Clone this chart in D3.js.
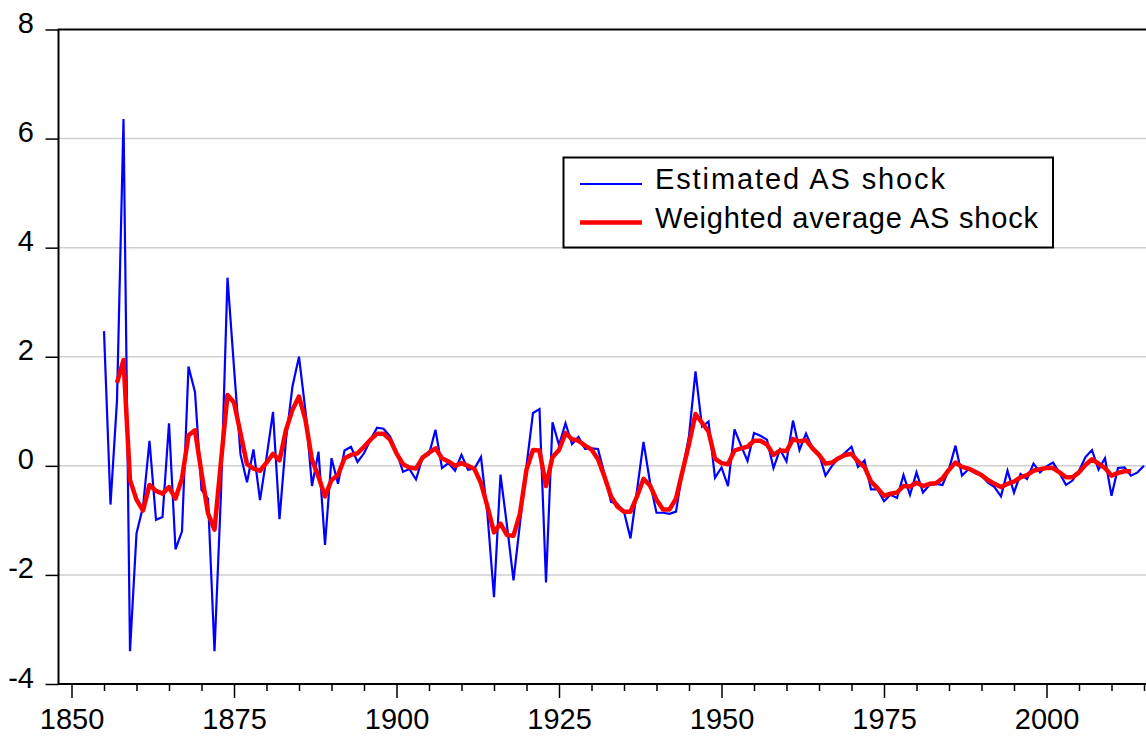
<!DOCTYPE html>
<html>
<head>
<meta charset="utf-8">
<script src="https://cdn.jsdelivr.net/npm/d3@7"></script>
<style>
  body { margin: 0; background: #fff; }
  svg { display: block; }
  text { font-family: "Liberation Sans", Arial, sans-serif; fill: #000; }
</style>
</head>
<body>
<div class="graph"></div>
<script>

// estimated AS shock, one value per year from 1855
var shockStart = 1855;
var asShock = [
  2.47, -0.71, 1.20, 6.36, -3.40,
  -1.24, -0.75, 0.46, -0.99, -0.94, 0.78, -1.53, -1.20, 1.82, 1.35,
  -0.44, -0.60, -3.40, -0.50, 3.45, 1.80, 0.21, -0.30, 0.30, -0.63,
  0.15, 0.99, -0.98, 0.48, 1.46, 2.00, 1.00, -0.37, 0.26, -1.45,
  0.14, -0.33, 0.28, 0.35, 0.07, 0.23, 0.48, 0.70, 0.68, 0.54,
  0.26, -0.11, -0.06, -0.25, 0.15, 0.21, 0.66, -0.04, 0.05, -0.09,
  0.20, -0.07, -0.05, 0.16, -0.90, -2.41, -0.16, -1.10, -2.10, -1.05,
  0.00, 0.97, 1.04, -2.14, 0.80, 0.38, 0.78, 0.40, 0.53, 0.31,
  0.32, 0.31, -0.15, -0.66, -0.70, -0.84, -1.33, -0.45, 0.44, -0.30,
  -0.86, -0.86, -0.88, -0.84, -0.10, 0.55, 1.73, 0.72, 0.81, -0.22,
  -0.03, -0.37, 0.67, 0.37, 0.09, 0.60, 0.55, 0.48, -0.04, 0.30,
  0.08, 0.83, 0.29, 0.59, 0.32, 0.22, -0.18, 0.00, 0.14, 0.24,
  0.35, -0.02, 0.10, -0.43, -0.43, -0.65, -0.53, -0.59, -0.17, -0.53,
  -0.12, -0.49, -0.35, -0.33, -0.35, -0.06, 0.37, -0.18, -0.06, -0.13,
  -0.18, -0.31, -0.39, -0.56, -0.09, -0.49, -0.15, -0.24, 0.04, -0.12,
  -0.01, 0.06, -0.13, -0.35, -0.27, -0.09, 0.16, 0.29, -0.07, 0.14,
  -0.55, -0.04, -0.03, -0.18, -0.12, 0.00
];

// weighted average AS shock, from 1857
var avgStart = 1857;
var avgShock = [
  1.52, 1.94, -0.26,
  -0.62, -0.82, -0.35, -0.46, -0.51, -0.39, -0.60, -0.23, 0.56, 0.65,
  -0.13, -0.87, -1.17, 0.08, 1.30, 1.16, 0.60, 0.03, -0.05, -0.09,
  0.06, 0.22, 0.10, 0.66, 1.03, 1.27, 0.84, 0.11, -0.20, -0.56,
  -0.26, -0.17, 0.14, 0.20, 0.23, 0.35, 0.48, 0.59, 0.59, 0.48,
  0.23, 0.03, -0.03, -0.05, 0.15, 0.24, 0.32, 0.14, 0.08, 0.00,
  0.05, 0.00, -0.06, -0.32, -0.75, -1.22, -1.06, -1.27, -1.28, -0.87,
  -0.07, 0.29, 0.28, -0.37, 0.16, 0.29, 0.60, 0.49, 0.46, 0.37,
  0.30, 0.12, -0.20, -0.56, -0.75, -0.84, -0.84, -0.56, -0.24, -0.36,
  -0.62, -0.80, -0.80, -0.60, -0.10, 0.40, 0.95, 0.79, 0.63, 0.13,
  0.05, 0.03, 0.28, 0.32, 0.35, 0.46, 0.46, 0.39, 0.20, 0.28,
  0.27, 0.49, 0.45, 0.47, 0.32, 0.20, 0.04, 0.06, 0.14, 0.20,
  0.22, 0.08, -0.02, -0.29, -0.41, -0.55, -0.51, -0.49, -0.37, -0.38,
  -0.31, -0.37, -0.33, -0.32, -0.23, -0.07, 0.06, -0.02, -0.05, -0.11,
  -0.17, -0.26, -0.33, -0.39, -0.33, -0.29, -0.21, -0.17, -0.09, -0.06,
  -0.04, -0.04, -0.12, -0.21, -0.21, -0.12, 0.02, 0.12, 0.04, -0.04,
  -0.18, -0.13, -0.10, -0.10
];

var yTicks = [-4, -2, 0, 2, 4, 6, 8];
var xTickYears = [1850, 1855, 1860, 1865, 1870, 1875, 1880, 1885, 1890, 1895, 1900,
  1905, 1910, 1915, 1920, 1925, 1930, 1935, 1940, 1945, 1950, 1955, 1960, 1965,
  1970, 1975, 1980, 1985, 1990, 1995, 2000, 2005, 2010, 2015];
var xLabelYears = [1850, 1875, 1900, 1925, 1950, 1975, 2000];
var seriesNames = ["Estimated AS shock", "Weighted average AS shock"];

var width = 1146, height = 738;
// note: "top" is taken by window.top, so plot edges get their own names
var plotLeft = 58.5, plotTop = 29.5, plotBottom = 684;

var x = d3.scaleLinear().domain([1848, 2016]).range([plotLeft, plotLeft + 168 * 6.5]);
var y = d3.scaleLinear().domain([-4, 8]).range([plotBottom, plotTop]);

var svg = d3.select("div.graph").append("svg")
    .attr("width", width)
    .attr("height", height);

// horizontal grid
svg.append("g")
  .selectAll("line")
  .data(yTicks.filter(function(d) { return d > -4 && d < 8; }))
  .enter().append("line")
    .attr("x1", plotLeft)
    .attr("x2", width)
    .attr("y1", function(d) { return y(d); })
    .attr("y2", function(d) { return y(d); })
    .attr("stroke", "#cfcfcf")
    .attr("stroke-width", 1.5);

// the two series
var line = function(start) {
  return d3.line()
    .x(function(d, i) { return x(start + i); })
    .y(function(d) { return y(d); });
};

svg.append("path")
    .datum(asShock)
    .attr("fill", "none")
    .attr("stroke", "#0000ff")
    .attr("stroke-width", 2.2)
    .attr("d", line(shockStart));

svg.append("path")
    .datum(avgShock)
    .attr("fill", "none")
    .attr("stroke", "#ff0000")
    .attr("stroke-width", 4.5)
    .attr("stroke-linejoin", "round")
    .attr("d", line(avgStart));

// frame
svg.append("rect")
    .attr("x", plotLeft)
    .attr("y", plotTop)
    .attr("width", width - plotLeft + 10)
    .attr("height", plotBottom - plotTop)
    .attr("fill", "none")
    .attr("stroke", "#000")
    .attr("stroke-width", 2);

// y axis (plain hyphen for negatives, like the original)
var yAxis = svg.append("g")
    .attr("transform", "translate(" + plotLeft + ",0)")
    .call(d3.axisLeft(y).tickValues(yTicks).tickSize(13)
      .tickFormat(function(d) { return String(d); }));
yAxis.select(".domain").remove();
yAxis.selectAll("line").attr("stroke", "#000").attr("stroke-width", 1.5);
yAxis.selectAll("text")
    .attr("x", -24.5)
    .attr("dy", "3px")
    .style("font-size", "29px");

// x axis
var xAxis = svg.append("g")
    .attr("transform", "translate(0," + plotBottom + ")")
    .call(d3.axisBottom(x).tickValues(xTickYears).tickSize(7)
      .tickFormat(function(d) { return xLabelYears.indexOf(d) >= 0 ? d : ""; }));
xAxis.select(".domain").remove();
xAxis.selectAll("line")
    .attr("stroke", "#000")
    .attr("stroke-width", 1.5)
    .attr("y2", function(d) { return xLabelYears.indexOf(d) >= 0 ? 14 : 7; });
xAxis.selectAll("text")
    .attr("y", 45)
    .attr("dy", 0)
    .style("font-size", "29px");

// legend
var legend = svg.append("g");
legend.append("rect")
    .attr("x", 563.5)
    .attr("y", 157.5)
    .attr("width", 489.5)
    .attr("height", 90)
    .attr("fill", "#fff")
    .attr("stroke", "#000")
    .attr("stroke-width", 2);

var legendColors = ["#0000ff", "#ff0000"];
var legendWidths = [2, 4.5];
var legendText = [290, 383];
seriesNames.forEach(function(name, i) {
  var ly = 184 + i * 38.5;
  legend.append("line")
      .attr("x1", 580).attr("x2", 642)
      .attr("y1", ly).attr("y2", ly)
      .attr("stroke", legendColors[i])
      .attr("stroke-width", legendWidths[i]);
  legend.append("text")
      .attr("x", 655)
      .attr("y", ly + 5)
      .attr("textLength", legendText[i])
      .attr("lengthAdjust", "spacing")
      .style("font-size", "29px")
      .text(name);
});

</script>
</body>
</html>
